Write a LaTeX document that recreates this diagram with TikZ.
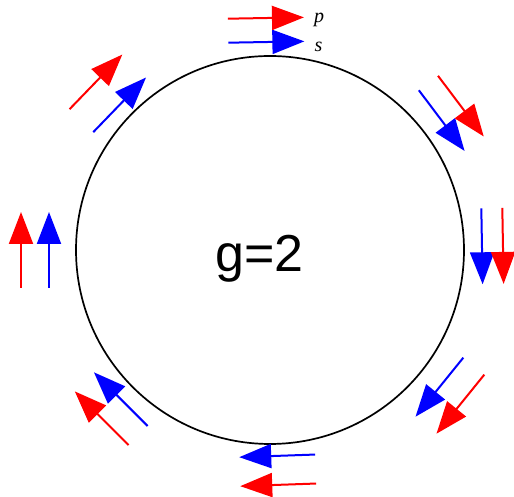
\documentclass[tikz,border=0pt]{standalone}
\usepackage{fontspec}
\setmainfont{Liberation Sans}
\newfontfamily\labelfont{Liberation Serif}
\usetikzlibrary{arrows.meta, calc}

\begin{document}
\begin{tikzpicture}[x=1pt, y=1pt,
    ring/.style={draw=black, line width=1.7pt},
    spinarrow/.style={line width=2pt, -{Triangle[length=32pt, width=24pt]}},
    parr/.style={spinarrow, red},
    sarr/.style={spinarrow, blue},
    tag/.style={font=\labelfont\itshape\fontsize{20}{20}\selectfont, inner sep=0pt, anchor=base west}
]
\useasboundingbox (0,0) rectangle (514,497);
\coordinate (c) at (270,247);

% the orbit
\draw[ring] (c) circle (194);
\node[font=\fontsize{52}{52}\selectfont, inner sep=0pt, anchor=base] (g) at (259.5,225) {g=2};

% momentum (red, outside) and spin (blue, inside), clockwise
\foreach \a/\rb/\rr [count=\i] in {91/208/232, 37/215/239, 1/212/233, -39/218/245,
                                   -88/206/235, -135/211/238, 180/221/249, 136/209/242} {
  \coordinate (bm\i) at ($(c)+(\a:\rb)$);
  \coordinate (rm\i) at ($(c)+(\a:\rr)$);
  \draw[sarr] ($(bm\i)+(\a+90:38)$) -- ($(bm\i)+(\a-90:38)$);
  \draw[parr] ($(rm\i)+(\a+90:38)$) -- ($(rm\i)+(\a-90:38)$);
}

% labels
\node[tag] (p) at ($(rm1)+(48,-4)$) {p};
\node[tag] (s) at ($(bm1)+(48,-9)$) {s};
\end{tikzpicture}
\end{document}
